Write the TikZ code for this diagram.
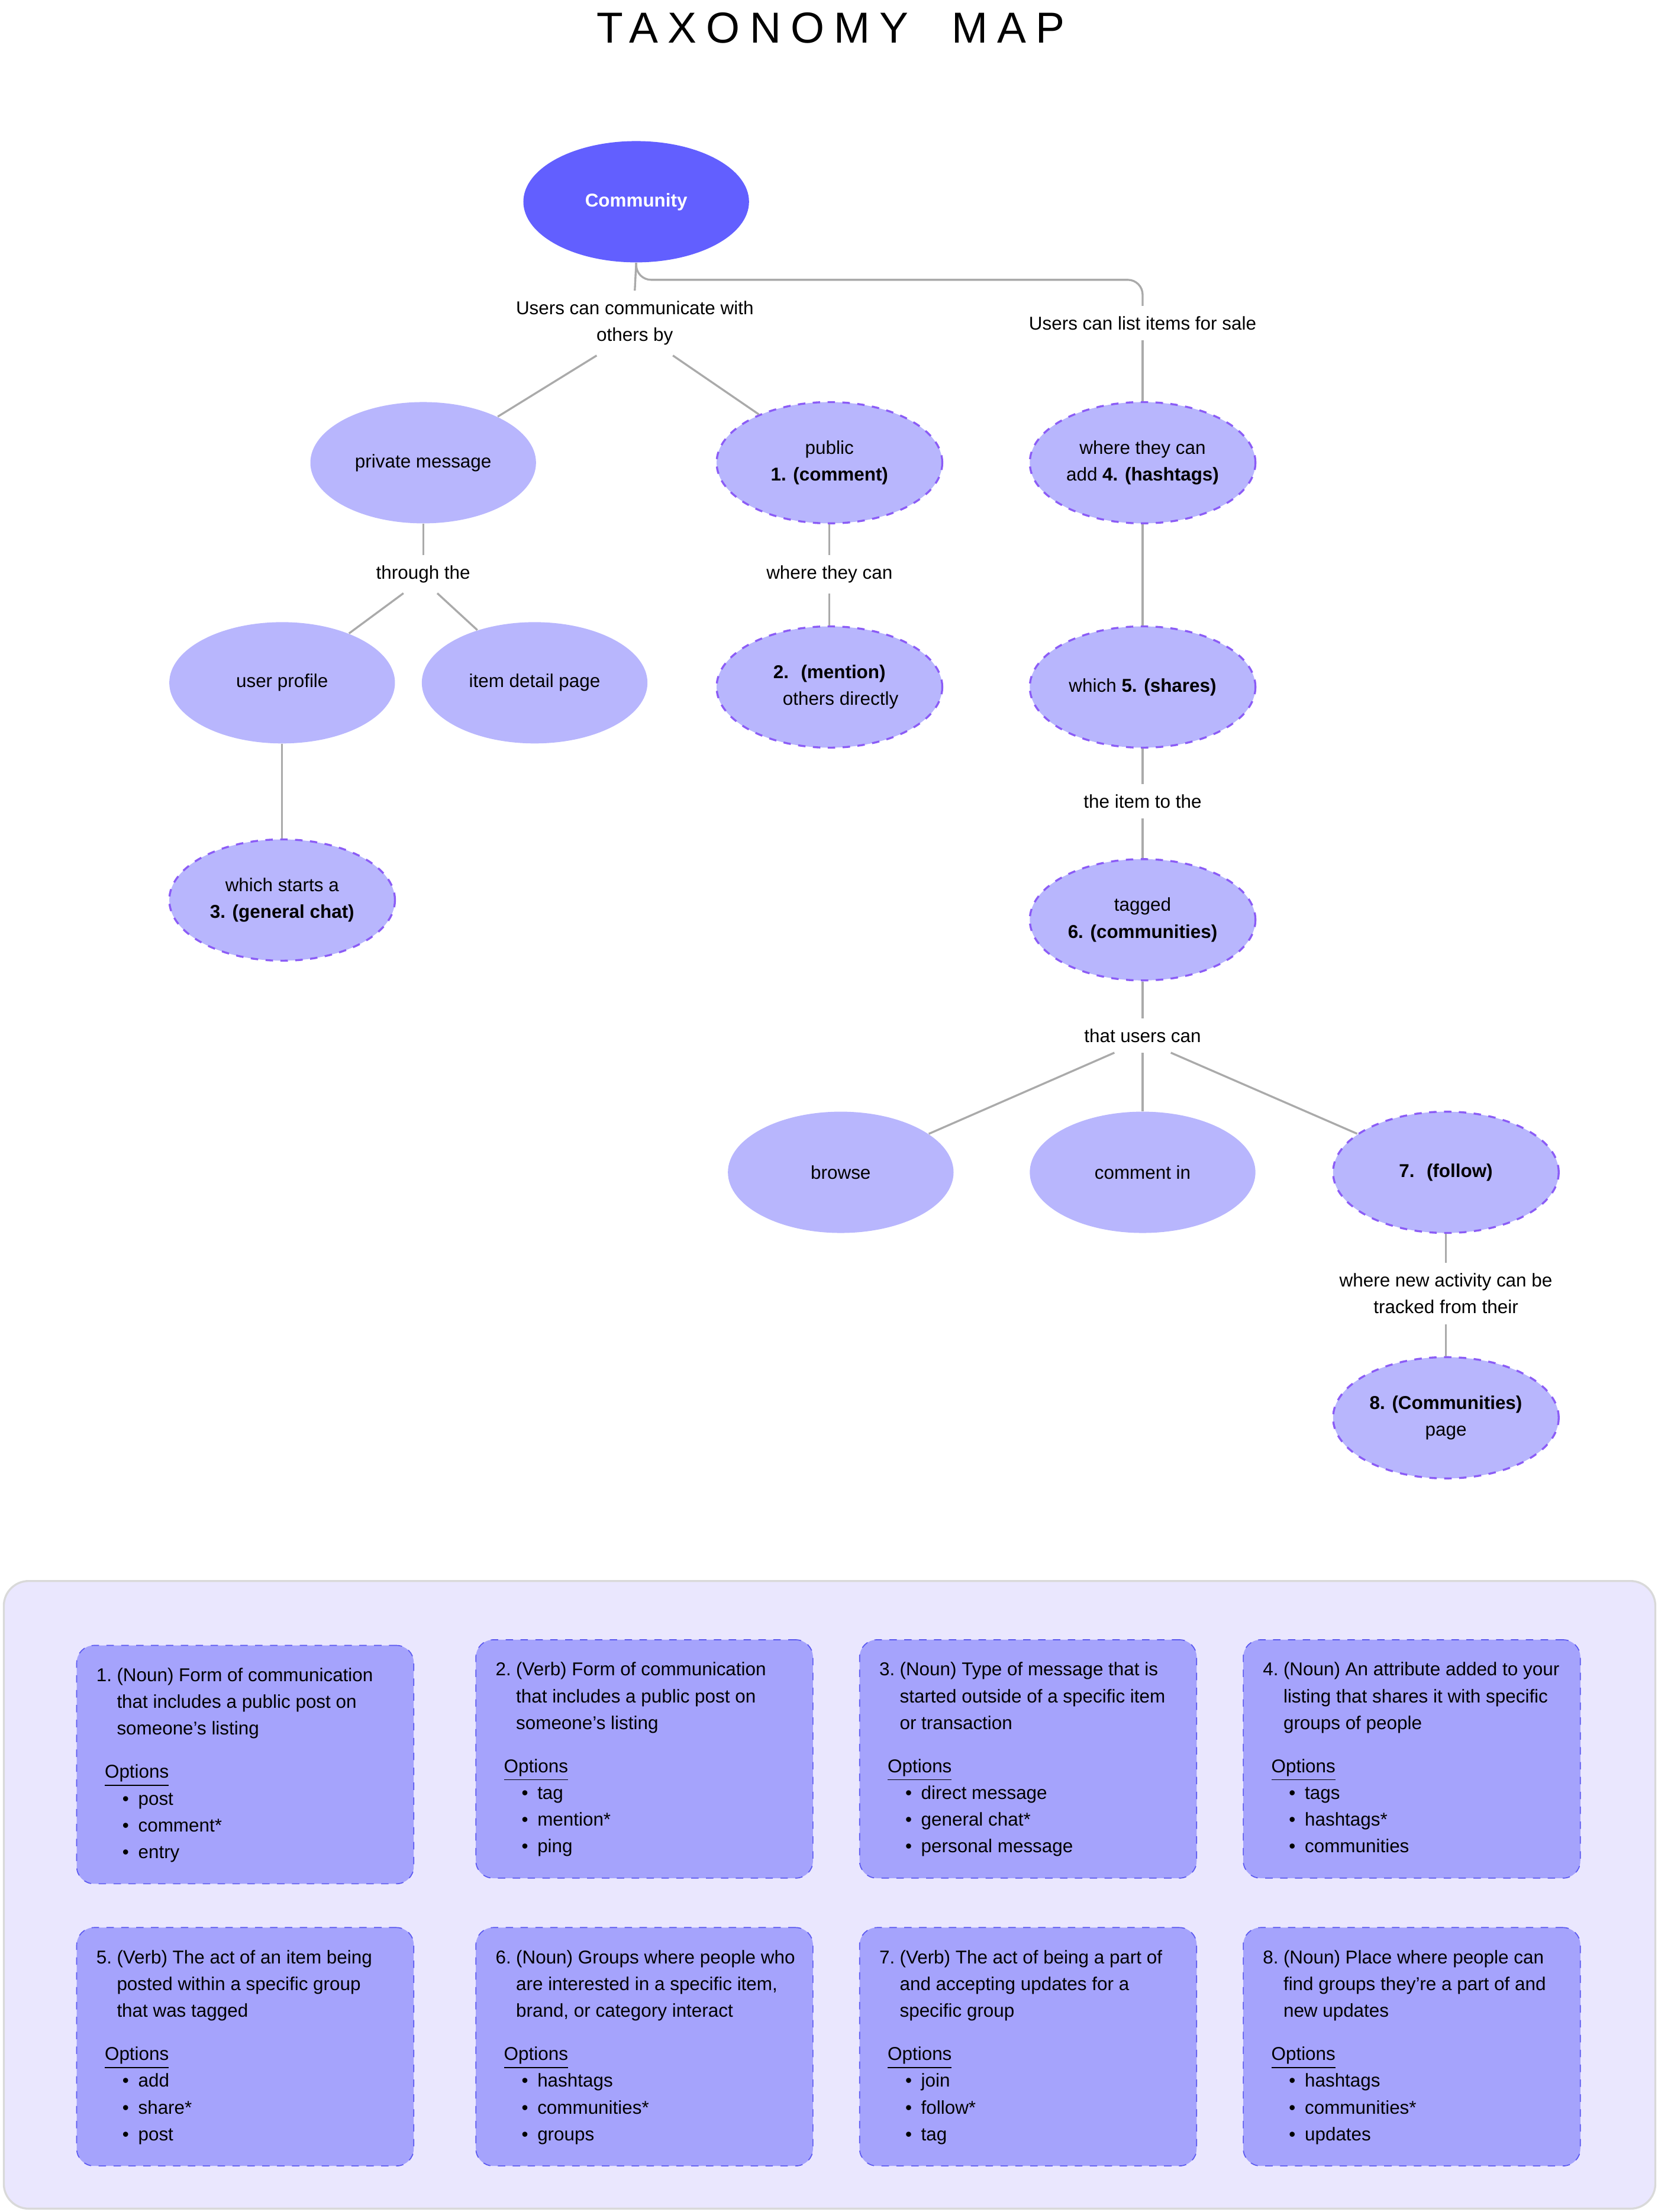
\documentclass[tikz,border=0pt]{standalone}
\usepackage{fontspec}
\setmainfont{Liberation Sans}
\usetikzlibrary{shapes.geometric,calc}
\definecolor{deepv}{HTML}{625FFF}
\definecolor{softv}{HTML}{B8B6FD}
\definecolor{dashv}{HTML}{8B5CF6}
\definecolor{cardv}{HTML}{A5A3FC}
\definecolor{cardedge}{HTML}{5B58F0}
\definecolor{panelv}{HTML}{EAE7FE}
\definecolor{linegray}{HTML}{AAAAAA}
\newcommand\cardtxt[5]{%
	\begin{minipage}[t]{4.5cm}\raggedright\fontsize{7.5}{10.8}\selectfont
		\hangindent=1.1em\hangafter=1\noindent\makebox[1.1em][l]{#1.}#2\par
		\vspace{6.6pt}\hspace*{0.45em}\underline{Options}\par
		\hspace*{1.4em}\textbullet\hspace{0.5em}#3\par
		\hspace*{1.4em}\textbullet\hspace{0.5em}#4\par
		\hspace*{1.4em}\textbullet\hspace{0.5em}#5\par
	\end{minipage}}
\begin{document}
\begin{tikzpicture}[x=0.02cm, y=-0.02cm,
		every node/.style={font=\fontsize{7.5}{10.8}\selectfont, align=center},
		blob/.style={ellipse, fill=softv, minimum width=3.2cm, minimum height=1.72cm, inner sep=0},
		term/.style={blob, draw=dashv, dashed, line width=0.8pt},
		say/.style={inner sep=4pt},
		conn/.style={draw=linegray, line width=0.8pt},
		card/.style={draw=cardedge, dashed, fill=cardv, rounded corners=7pt, line width=0.4pt, minimum width=4.78cm, minimum height=3.38cm, anchor=north west}]
	\path[use as bounding box] (0,0) rectangle (1175,1568);
	\node[font=\fontsize{17.5}{20}\selectfont\addfontfeature{LetterSpace=22}] (title) at (589,20) {TAXONOMY\quad MAP};

	% tree
	\node[blob, fill=deepv, text=white, font=\fontsize{7.5}{10.8}\selectfont\bfseries] (comm) at (451,143) {Community};
	\node[say] (comby) at (450,229) {Users can communicate with\\others by};
	\node[say] (lsale) at (810,229) {Users can list items for sale};
	\node[blob] (priv) at (300,328) {private message};
	\node[term] (pub) at (588,328) {public\\\textbf{1. (comment)}};
	\node[term] (hash) at (810,328) {where they can\\add \textbf{4. (hashtags)}};
	\node[say] (thru) at (300,407) {through the};
	\node[say] (wcan) at (588,407) {where they can};
	\node[blob] (uprof) at (200,484) {user profile};
	\node[blob] (idet) at (379,484) {item detail page};
	\node[term] (ment) at (588,487) {\textbf{2.~ (mention)}\\\hspace*{1.2em}others directly};
	\node[term] (share) at (810,487) {which \textbf{5. (shares)}};
	\node[say] (toit) at (810,568) {the item to the};
	\node[term] (gchat) at (200,638) {which starts a\\\textbf{3. (general chat)}};
	\node[term] (comms) at (810,652) {tagged\\\textbf{6. (communities)}};
	\node[say] (ucan) at (810,734) {that users can};
	\node[blob] (brow) at (596,831) {browse};
	\node[blob] (cmin) at (810,831) {comment in};
	\node[term] (foll) at (1025,831) {\textbf{7.~ (follow)}};
	\node[say] (track) at (1025,917) {where new activity can be\\tracked from their};
	\node[term] (cpage) at (1025,1005) {\textbf{8. (Communities)}\\page};

	\draw[conn] (comm.south) -- (comby.north);
	\draw[conn, rounded corners=6pt] (comm.south) -- ++(0,12) -| (lsale.north);
	\draw[conn] ($(comby.south)+(-27,0)$) -- (priv);
	\draw[conn] ($(comby.south)+(27,0)$) -- (pub);
	\draw[conn] (lsale.south) -- (hash.north);
	\draw[conn] (priv.south) -- (thru.north);
	\draw[conn] ($(thru.south)+(-14,0)$) -- (uprof);
	\draw[conn] ($(thru.south)+(10,0)$) -- (idet);
	\draw[conn] (pub.south) -- (wcan.north);
	\draw[conn] (wcan.south) -- (ment.north);
	\draw[conn] (hash.south) -- (share.north);
	\draw[conn] (share.south) -- (toit.north);
	\draw[conn] (toit.south) -- (comms.north);
	\draw[conn] (uprof.south) -- (gchat.north);
	\draw[conn] (comms.south) -- (ucan.north);
	\draw[conn] ($(ucan.south)+(-20,0)$) -- (brow);
	\draw[conn] (ucan.south) -- (cmin.north);
	\draw[conn] ($(ucan.south)+(20,0)$) -- (foll);
	\draw[conn] (foll.south) -- (track.north);
	\draw[conn] (track.south) -- (cpage.north);

	% glossary panel
	\node[draw=black!15, fill=panelv, rounded corners=10pt, line width=0.8pt, minimum width=23.42cm, minimum height=8.9cm, anchor=north west] (panel) at (2,1120) {};
	\node[card] (c1) at (54,1166) {};
	\node[card] (c2) at (337,1162) {};
	\node[card] (c3) at (609,1162) {};
	\node[card] (c4) at (881,1162) {};
	\node[card] (c5) at (54,1366) {};
	\node[card] (c6) at (337,1366) {};
	\node[card] (c7) at (609,1366) {};
	\node[card] (c8) at (881,1366) {};
	\tikzset{cardtext/.style={anchor=north west, inner sep=0, align=left}}
	\node[cardtext] at ($(c1.north west)+(14,16)$) {\cardtxt{1}{(Noun) Form of communication\newline that includes a public post on\newline someone's listing}{post}{comment*}{entry}};
	\node[cardtext] at ($(c2.north west)+(14,16)$) {\cardtxt{2}{(Verb) Form of communication\newline that includes a public post on\newline someone's listing}{tag}{mention*}{ping}};
	\node[cardtext] at ($(c3.north west)+(14,16)$) {\cardtxt{3}{(Noun) Type of message that is\newline started outside of a specific item\newline or transaction}{direct message}{general chat*}{personal message}};
	\node[cardtext] at ($(c4.north west)+(14,16)$) {\cardtxt{4}{(Noun) An attribute added to your\newline listing that shares it with specific\newline groups of people}{tags}{hashtags*}{communities}};
	\node[cardtext] at ($(c5.north west)+(14,16)$) {\cardtxt{5}{(Verb) The act of an item being\newline posted within a specific group\newline that was tagged}{add}{share*}{post}};
	\node[cardtext] at ($(c6.north west)+(14,16)$) {\cardtxt{6}{(Noun) Groups where people who\newline are interested in a specific item,\newline brand, or category interact}{hashtags}{communities*}{groups}};
	\node[cardtext] at ($(c7.north west)+(14,16)$) {\cardtxt{7}{(Verb) The act of being a part of\newline and accepting updates for a\newline specific group}{join}{follow*}{tag}};
	\node[cardtext] at ($(c8.north west)+(14,16)$) {\cardtxt{8}{(Noun) Place where people can\newline find groups they're a part of and\newline new updates}{hashtags}{communities*}{updates}};
\end{tikzpicture}
\end{document}
